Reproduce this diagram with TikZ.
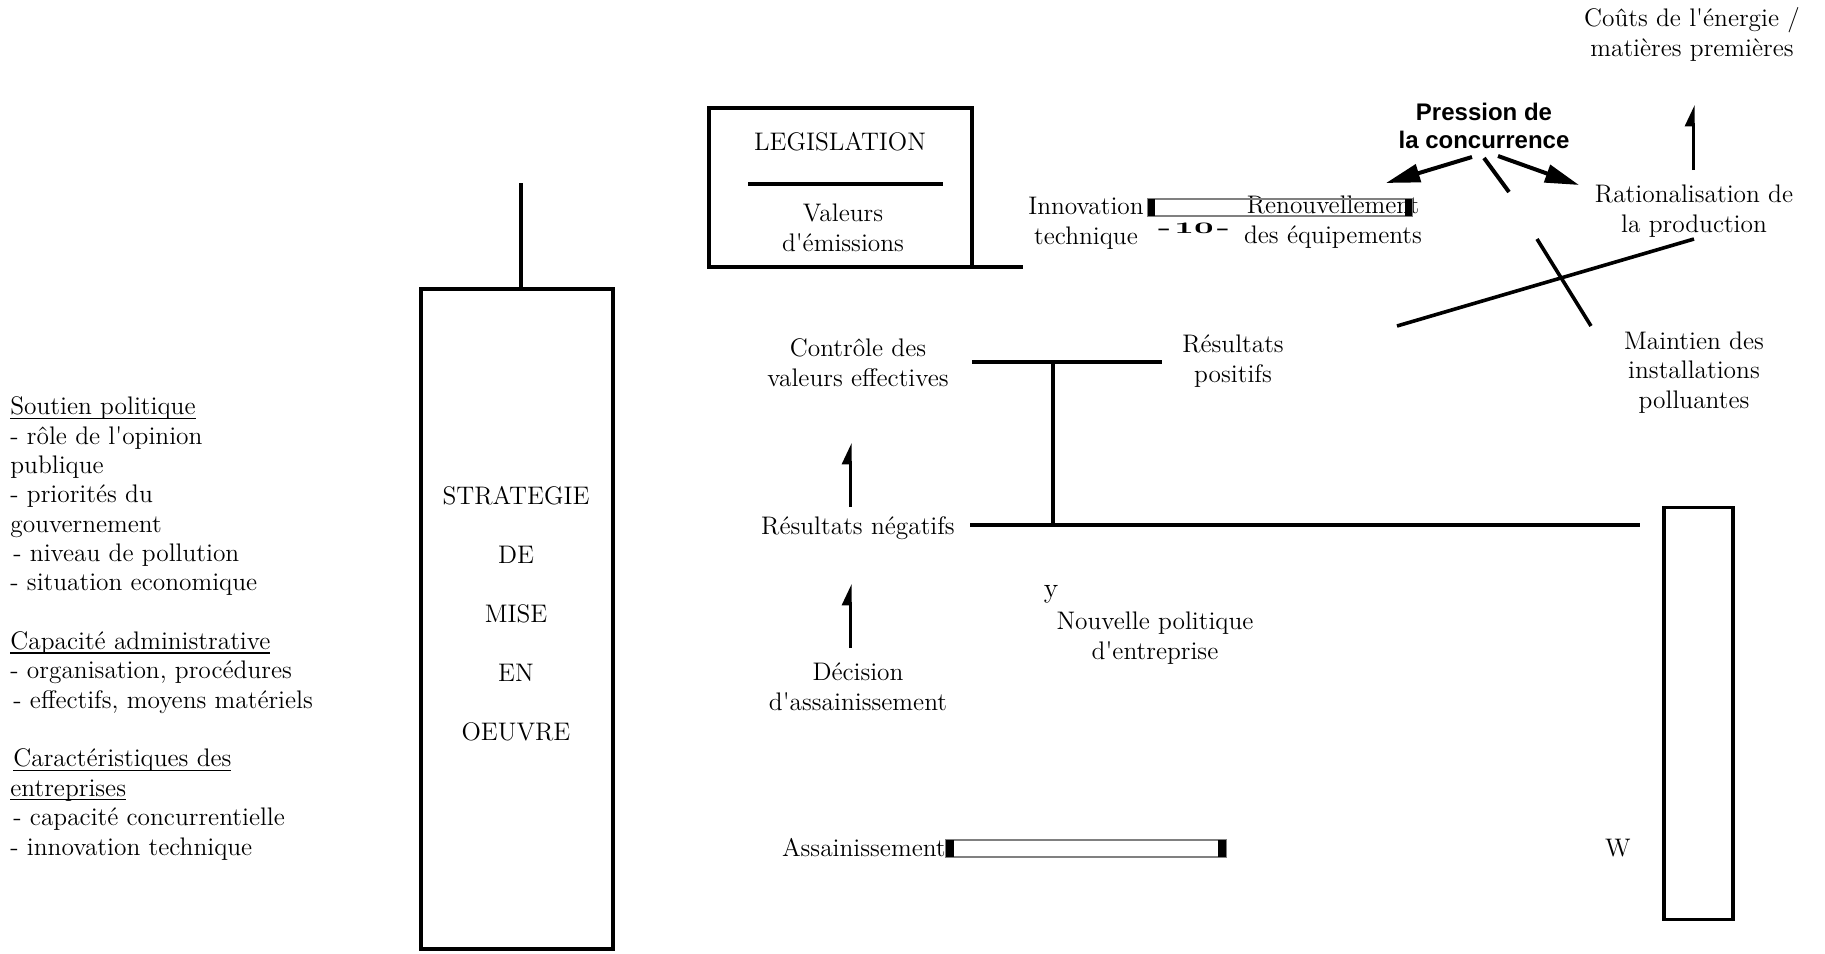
\documentclass[tikz,border=0pt]{standalone}
\usepackage{fontspec}
\usepackage{graphicx}
\newfontfamily\pressionfont{Liberation Sans}
\usetikzlibrary{arrows.meta, positioning}
\newcommand{\souligne}[1]{\setbox0\hbox{#1}\rlap{\rule[-2pt]{\wd0}{0.6pt}}\box0}
\newcommand{\apo}{\textquotesingle}
\tikzset{
  texte/.style={font=\fontsize{12.7}{14.67}\selectfont, inner sep=0pt, align=center},
  cadre/.style={draw, line width=1.6pt, inner sep=0pt, outer sep=0pt},
  trait/.style={line width=1.6pt},
  fleche/.style={line width=1.5pt, -{Triangle[left, length=9pt, width=8pt]}},
  grosse fleche/.style={line width=2pt, -{Triangle[length=17pt, width=9pt]}},
  barre/.style={draw=gray, line width=0.6pt},
}

\begin{document}
\begin{tikzpicture}[x=0.5pt, y=-0.5pt]
  \useasboundingbox (0,0) rectangle (1825,953);

  \node[texte, align=left, anchor=base west] (facteurs) at (10,855) {%
    \souligne{Soutien politique}\\
    - rôle de l\apo opinion\\
    publique\\
    - priorités du\\
    gouvernement\\
    \hspace{1.5pt}- niveau de pollution\\
    - situation economique\\[14.67pt]
    \souligne{Capacité administrative}\\
    - organisation, procédures\\
    \hspace{1.5pt}- effectifs, moyens matériels\\[14.67pt]
    \hspace{1.5pt}\souligne{Caractéristiques des}\\
    \souligne{entreprises}\\
    \hspace{1.5pt}- capacité concurrentielle\\
    - innovation technique};

  \node[cadre, minimum width=96pt, minimum height=330pt] (strategie) at (517,619) {};
  \node[texte, font=\fontsize{12.7}{29.5}\selectfont, anchor=base] (strategie-texte) at (516,740)
    {STRATEGIE\\DE\\MISE\\EN\\OEUVRE};
  \coordinate (tige) at (521,183);
  \draw[trait] (tige) -- (tige |- strategie.north);

  \node[cadre, minimum width=131.5pt, minimum height=79.5pt] (legislation) at (840.5,187.5) {};
  \node[texte, anchor=base] (legislation-titre) at (840,150) {LEGISLATION};
  \node[texte, anchor=base] (valeurs) at (843,251) {Valeurs\\d\apo émissions};
  \coordinate (sep-g) at (748,184);
  \coordinate (sep-d) at (943,184);
  \draw[trait] (sep-g) -- (sep-d);
  \coordinate (legislation-fin) at (1023,267);
  \draw[trait] (legislation.south east) -- (legislation-fin);

  \node[texte, anchor=base] (innovation) at (1086,244) {Innovation\\technique};
  \node[texte, anchor=base] (renouvellement) at (1333,243) {Renouvellement\\des équipements};
  \node[texte, anchor=base] (page) at (1194,233)
    {\scalebox{2}[1]{\bfseries\fontsize{8}{9}\selectfont -\kern0.8pt10\kern0.8pt-}};
  \draw[barre] (1148,199) rectangle (1412,216);
  \fill (1148,199) rectangle (1155,216);
  \fill (1405,199) rectangle (1412,216);

  \node[texte, anchor=base, font=\pressionfont\bfseries\fontsize{12}{13.8}\selectfont] (pression) at (1484,148)
    {Pression de\\la concurrence};
  \coordinate (pression-g) at (1472,157);
  \coordinate (pression-m) at (1484,158);
  \coordinate (pression-d) at (1498,156);
  \coordinate (vers-renouvellement) at (1386,183);
  \coordinate (vers-milieu) at (1509,192);
  \coordinate (vers-rationalisation) at (1579,185);
  \draw[grosse fleche] (pression-g) -- (vers-renouvellement);
  \draw[line width=2pt] (pression-m) -- (vers-milieu);
  \draw[grosse fleche] (pression-d) -- (vers-rationalisation);

  \node[texte, anchor=base] (couts) at (1692,56) {Coûts de l\apo énergie /\\matières premières};
  \node[texte, anchor=base] (rationalisation) at (1694,232) {Rationalisation de\\la production};
  \coordinate (couts-bas) at (1693,170);
  \coordinate (couts-haut) at (1693,105);
  \draw[fleche] (couts-bas) -- (couts-haut);

  \coordinate (croix-a) at (1397,326);
  \coordinate (croix-b) at (1694,239);
  \coordinate (croix-c) at (1537,239);
  \coordinate (croix-d) at (1591,326);
  \draw[line width=1.8pt] (croix-a) -- (croix-b);
  \draw[line width=1.8pt] (croix-c) -- (croix-d);
  \node[texte, anchor=base] (maintien) at (1694,408) {Maintien des\\installations\\polluantes};

  \node[texte, anchor=base] (controle) at (858,386) {Contrôle des\\valeurs effectives};
  \node[texte, anchor=base] (positifs) at (1233,382) {Résultats\\positifs};
  \node[texte, anchor=base] (negatifs) at (858,534) {Résultats négatifs};
  \coordinate (haut-g) at (972,362);
  \coordinate (haut-d) at (1162,362);
  \coordinate (noeud-haut) at (1053,362);
  \coordinate (noeud-bas) at (1053,525);
  \coordinate (bas-g) at (970,525);
  \coordinate (bas-d) at (1640,525);
  \draw[trait] (haut-g) -- (haut-d);
  \draw[trait] (noeud-haut) -- (noeud-bas);
  \draw[trait] (bas-g) -- (bas-d);

  \coordinate (f1-bas) at (850,507);
  \coordinate (f1-haut) at (850,443);
  \draw[fleche] (f1-bas) -- (f1-haut);
  \coordinate (f2-bas) at (850,648);
  \coordinate (f2-haut) at (850,584);
  \draw[fleche] (f2-bas) -- (f2-haut);

  \node[texte, anchor=base] (decision) at (858,710) {Décision\\d\apo assainissement};
  \node[texte, anchor=base, font=\fontsize{14}{15}\selectfont] (y) at (1051,597) {y};
  \node[texte, anchor=base] (nouvelle) at (1155,659) {Nouvelle politique\\d\apo entreprise};

  \node[texte, anchor=base east] (assainissement) at (946,856) {Assainissement};
  \draw[barre] (946,840) rectangle (1226,857);
  \fill (946,840) rectangle (954,857);
  \fill (1218,840) rectangle (1226,857);

  \node[texte, anchor=base] (w) at (1618,856) {W};
  \node[cadre, minimum width=34.5pt, minimum height=206pt] (colonne) at (1698.5,713.5) {};
\end{tikzpicture}
\end{document}
